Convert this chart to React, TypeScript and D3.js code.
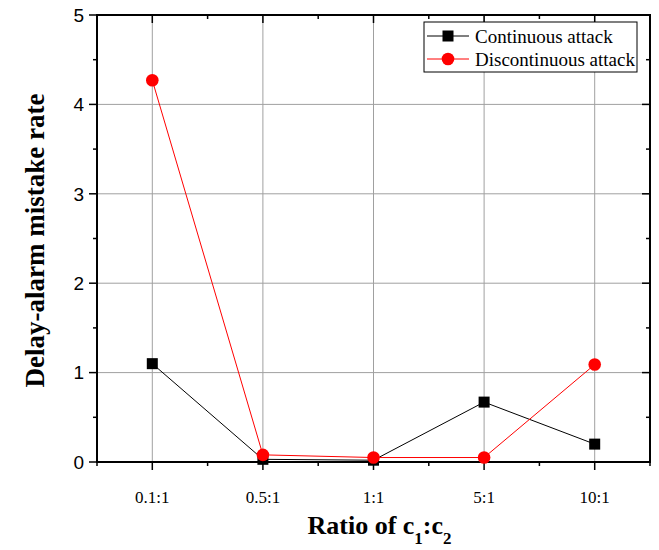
import React from "react";
import * as d3 from "d3";

const categories = ["0.1:1", "0.5:1", "1:1", "5:1", "10:1"];
const continuous = [1.1, 0.03, 0.02, 0.67, 0.2];
const discontinuous = [4.27, 0.08, 0.05, 0.05, 1.09];
const yTicks = [0, 1, 2, 3, 4, 5];
const yMinor = [0.5, 1.5, 2.5, 3.5, 4.5];

const width = 659;
const height = 550;
const margin = { top: 15, right: 9, bottom: 88, left: 97 };

export default function App() {
  const innerW = width - margin.left - margin.right;
  const innerH = height - margin.top - margin.bottom;

  const x = d3.scaleLinear().domain([-0.5, categories.length - 0.5]).range([0, innerW]);
  const y = d3.scaleLinear().domain([0, 5]).range([innerH, 0]);

  const xMajor = d3.range(categories.length);
  const xMinor = d3.range(-0.5, categories.length, 1);

  const line = d3
    .line<number>()
    .x((_, i) => x(i))
    .y((d) => y(d));

  const serif = "'Liberation Serif', 'Times New Roman', serif";
  const sans = "'Liberation Sans', Arial, sans-serif";

  return (
    <svg width={width} height={height} style={{ position: "absolute", left: 0, top: 0 }}>
      <rect width={width} height={height} fill="#fff" />
      <g transform={`translate(${margin.left},${margin.top})`}>
        {/* grid */}
        {xMajor.map((i) => (
          <line key={"gx" + i} x1={x(i)} x2={x(i)} y1={0} y2={innerH} stroke="#a0a0a0" strokeWidth={1} />
        ))}
        {yTicks.slice(1, -1).map((t) => (
          <line key={"gy" + t} x1={0} x2={innerW} y1={y(t)} y2={y(t)} stroke="#a0a0a0" strokeWidth={1} />
        ))}

        {/* bottom ticks (outward) */}
        {xMajor.map((i) => (
          <line key={"bt" + i} x1={x(i)} x2={x(i)} y1={innerH} y2={innerH + 8} stroke="#000" strokeWidth={1.5} />
        ))}
        {xMinor.map((v) => (
          <line key={"bm" + v} x1={x(v)} x2={x(v)} y1={innerH} y2={innerH + 4} stroke="#000" strokeWidth={1.5} />
        ))}
        {/* top ticks (inward) */}
        {xMajor.map((i) => (
          <line key={"tt" + i} x1={x(i)} x2={x(i)} y1={0} y2={8} stroke="#000" strokeWidth={1.5} />
        ))}
        {xMinor.map((v) => (
          <line key={"tm" + v} x1={x(v)} x2={x(v)} y1={0} y2={4} stroke="#000" strokeWidth={1.5} />
        ))}
        {/* left ticks (outward) */}
        {yTicks.map((t) => (
          <line key={"lt" + t} x1={-8} x2={0} y1={y(t)} y2={y(t)} stroke="#000" strokeWidth={1.5} />
        ))}
        {yMinor.map((t) => (
          <line key={"lm" + t} x1={-4} x2={0} y1={y(t)} y2={y(t)} stroke="#000" strokeWidth={1.5} />
        ))}
        {/* right ticks (inward) */}
        {yTicks.map((t) => (
          <line key={"rt" + t} x1={innerW - 8} x2={innerW} y1={y(t)} y2={y(t)} stroke="#000" strokeWidth={1.5} />
        ))}
        {yMinor.map((t) => (
          <line key={"rm" + t} x1={innerW - 4} x2={innerW} y1={y(t)} y2={y(t)} stroke="#000" strokeWidth={1.5} />
        ))}

        {/* frame */}
        <rect x={0} y={0} width={innerW} height={innerH} fill="none" stroke="#000" strokeWidth={2} />

        {/* tick labels */}
        {yTicks.map((t) => (
          <text key={"yl" + t} x={-13} y={y(t)} dy="0.36em" textAnchor="end" fontFamily={sans} fontSize={19}>
            {t}
          </text>
        ))}
        {categories.map((c, i) => (
          <text key={"xl" + c} x={x(i)} y={innerH + 41} textAnchor="middle" fontFamily={serif} fontSize={17}>
            {c}
          </text>
        ))}

        {/* series */}
        <path d={line(continuous) ?? ""} fill="none" stroke="#000" strokeWidth={1} />
        <path d={line(discontinuous) ?? ""} fill="none" stroke="#ff0000" strokeWidth={1} />
        {continuous.map((v, i) => (
          <rect key={"sq" + i} x={x(i) - 5.5} y={y(v) - 5.5} width={11} height={11} fill="#000" />
        ))}
        {discontinuous.map((v, i) => (
          <circle key={"ci" + i} cx={x(i)} cy={y(v)} r={6.3} fill="#ff0000" />
        ))}

        {/* legend */}
        <g transform={`translate(${innerW - 226},7)`}>
          <rect x={0} y={0} width={213} height={50} fill="#fff" stroke="#000" strokeWidth={1} />
          <line x1={3} x2={45} y1={14} y2={14} stroke="#000" strokeWidth={1} />
          <rect x={24 - 5.5} y={14 - 5.5} width={11} height={11} fill="#000" />
          <text x={51} y={14} dy="0.35em" fontFamily={serif} fontSize={19}>
            Continuous attack
          </text>
          <line x1={3} x2={45} y1={37} y2={37} stroke="#ff0000" strokeWidth={1} />
          <circle cx={24} cy={37} r={6.3} fill="#ff0000" />
          <text x={51} y={37} dy="0.35em" fontFamily={serif} fontSize={19}>
            Discontinuous attack
          </text>
        </g>
      </g>

      {/* axis titles */}
      <text
        transform={`translate(44,${margin.top + innerH / 2 + 2}) rotate(-90)`}
        textAnchor="middle"
        fontFamily={serif}
        fontWeight="bold"
        fontSize={27}
      >
        Delay-alarm mistake rate
      </text>
      <text x={margin.left + innerW / 2 + 6} y={534} textAnchor="middle" fontFamily={serif} fontWeight="bold" fontSize={26}>
        Ratio of c<tspan baselineShift="sub" fontSize={17}>1</tspan>:c
        <tspan baselineShift="sub" fontSize={17}>2</tspan>
      </text>
    </svg>
  );
}
